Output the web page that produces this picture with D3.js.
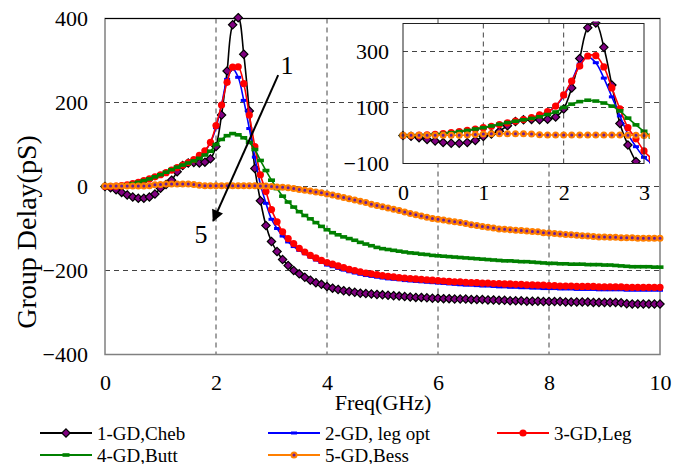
<!DOCTYPE html>
<html><head><meta charset="utf-8">
<script src="https://cdn.jsdelivr.net/npm/d3@7"></script>
<style>
body{margin:0;background:#fff}
text{font-family:"Liberation Serif","Times New Roman",serif;fill:#000}
</style>
</head><body><svg id="c" width="684" height="464"></svg>
<script>
const freq = [0,0.1,0.2,0.3,0.4,0.5,0.6,0.7,0.8,0.9,1,1.1,1.2,1.3,1.4,1.5,1.6,1.7,1.8,1.9,2,2.1,2.2,2.3,2.4,2.5,2.6,2.7,2.8,2.9,3,3.1,3.2,3.3,3.4,3.5,3.6,3.7,3.8,3.9,4,4.1,4.2,4.3,4.4,4.5,4.6,4.7,4.8,4.9,5,5.1,5.2,5.3,5.4,5.5,5.6,5.7,5.8,5.9,6,6.1,6.2,6.3,6.4,6.5,6.6,6.7,6.8,6.9,7,7.1,7.2,7.3,7.4,7.5,7.6,7.7,7.8,7.9,8,8.1,8.2,8.3,8.4,8.5,8.6,8.7,8.8,8.9,9,9.1,9.2,9.3,9.4,9.5,9.6,9.7,9.8,9.9,10];

const gdCheb = [0,-3,-8,-14,-20,-25,-28,-28,-25,-18,
 -4,5,15,35,50,56,57,56,58,66,
 95,170,275,385,402,315,180,43,-34,-93,
 -131,-155,-174,-188,-200,-208,-216,-223,-229,-233,
 -238,-242,-245,-248,-250,-252,-254,-255,-256,-257,
 -258,-259,-260,-261,-262,-263,-264,-264,-265,-266,
 -266,-267,-267,-268,-268,-268,-269,-269,-269,-270,
 -270,-271,-271,-272,-272,-272,-273,-273,-273,-274,
 -274,-274,-274,-275,-275,-275,-275,-275,-276,-276,
 -276,-276,-276,-277,-279,-280,-280,-280,-280,-280,-280];

const gdLegOpt = [0,0,1,2,4,6,9,13,17,22,
 27,32,38,43,49,55,62,72,84,105,
 140,195,255,280,260,205,138,70,5,-40,
 -78,-100,-118,-132,-143,-152,-160,-168,-175,-181,
 -187,-191,-195,-199,-203,-206,-209,-212,-214,-216,
 -218,-220,-221,-222,-224,-225,-226,-227,-228,-229,
 -230,-231,-232,-233,-234,-235,-235,-236,-237,-237,
 -238,-239,-239,-240,-240,-241,-241,-242,-242,-243,
 -243,-243,-244,-244,-244,-245,-245,-245,-245,-246,
 -246,-246,-246,-246,-247,-247,-247,-247,-247,-247,-247];

const gdLeg = [0,0,1,2,4,7,10,14,18,23,
 28,33,39,45,51,57,64,74,85,105,
 145,194,248,284,285,245,170,95,28,-12,
 -55,-84,-108,-124,-136,-147,-156,-164,-170,-176,
 -181,-185,-189,-193,-197,-200,-203,-206,-208,-210,
 -212,-214,-215,-217,-218,-219,-220,-221,-222,-223,
 -224,-225,-226,-227,-227,-228,-229,-229,-230,-230,
 -231,-231,-232,-232,-233,-233,-234,-234,-235,-235,
 -236,-236,-237,-237,-237,-238,-238,-238,-238,-239,
 -239,-239,-239,-239,-240,-240,-240,-240,-240,-240,-240];

const gdButt = [0,0,1,2,4,7,10,14,18,23,
 28,34,40,46,51,56,61,67,75,84,
 100,112,121,126,123,116,105,88,62,38,
 15,-5,-23,-37,-49,-60,-69,-77,-86,-95,
 -103,-110,-115,-120,-124,-128,-133,-137,-141,-145,
 -148,-150,-152,-154,-156,-158,-159,-161,-162,-164,
 -165,-166,-167,-168,-169,-170,-171,-172,-173,-174,
 -175,-176,-177,-177,-178,-179,-179,-180,-181,-182,
 -183,-183,-184,-184,-185,-185,-185,-186,-186,-186,
 -187,-187,-188,-189,-190,-191,-191,-191,-191,-192,-192];

const gdBess = [1,1,1,1,1,1,1,1,2,4,
 5,6,6,6,6,6,5,3,2,2,
 2,2,2,2,2,2,2,2,1,1,
 0,-1,-2,-3,-5,-7,-9,-11,-13,-15,
 -18,-20,-23,-26,-29,-32,-35,-38,-42,-45,
 -48,-51,-54,-57,-61,-64,-67,-70,-73,-76,
 -78,-80,-82,-84,-86,-88,-91,-93,-95,-97,
 -99,-101,-102,-103,-104,-105,-106,-107,-108,-110,
 -111,-112,-113,-114,-115,-116,-117,-118,-119,-120,
 -120,-121,-121,-122,-122,-122,-123,-123,-123,-123,-123];

const seriesNames = ["1-GD,Cheb","2-GD, leg opt","3-GD,Leg","4-GD,Butt","5-GD,Bess"];
const seriesColors = ["#000000","#0000FF","#FF0000","#008000","#FF7F00"];
const seriesMarkers = ["diamond","dash","circle","bar","ring"];
const seriesValues = [gdCheb, gdLegOpt, gdLeg, gdButt, gdBess];

const mainXTicks = [0,2,4,6,8,10];
const mainYTicks = [-400,-200,0,200,400];
const mainXGrid = [2,4,6,8];
const mainYGrid = [-200,0,200];
const insetXTicks = [0,1,2,3];
const insetYTicks = [-100,100,300];
const insetXGrid = [1,2];
const insetYGrid = [100,300];

const svg = d3.select('#c');
const FS = 22;
const SERIF = "Liberation Serif";

const x = d3.scaleLinear().domain([0,10]).range([105,660]);
const y = d3.scaleLinear().domain([-400,400]).range([354.5,18.5]);

function drawMarkers(g, pts, type, color, xs, ys) {
  const sel = g.selectAll(null).data(pts).enter();
  if (type === "diamond") {
    sel.append("path").attr("d", d3.symbol(d3.symbolDiamond2, 44)())
      .attr("transform", d => `translate(${xs(d[0])},${ys(d[1])})`)
      .attr("fill", "#800080").attr("stroke", "#000").attr("stroke-width", 1.2);
  } else if (type === "dash") {
    sel.append("rect").attr("x", d => xs(d[0]) - 3).attr("y", d => ys(d[1]) - 1.5)
      .attr("width", 6).attr("height", 3).attr("fill", color);
  } else if (type === "circle") {
    sel.append("circle").attr("cx", d => xs(d[0])).attr("cy", d => ys(d[1]))
      .attr("r", 3.6).attr("fill", color);
  } else if (type === "bar") {
    sel.append("rect").attr("x", d => xs(d[0]) - 3.5).attr("y", d => ys(d[1]) - 1.8)
      .attr("width", 7).attr("height", 3.6).attr("fill", color);
  } else if (type === "ring") {
    sel.append("circle").attr("cx", d => xs(d[0])).attr("cy", d => ys(d[1]))
      .attr("r", 2.5).attr("fill", "#6A1B9A").attr("stroke", color).attr("stroke-width", 2);
  }
}

function drawSeries(g, xs, ys, maxF) {
  seriesValues.forEach((vals, i) => {
    const pts = freq.map((f, j) => [f, vals[j]]).filter(d => d[0] <= maxF + 1e-9);
    const line = d3.line().x(d => xs(d[0])).y(d => ys(d[1])).curve(d3.curveCatmullRom.alpha(0.5));
    g.append("path").attr("d", line(pts)).attr("fill", "none")
      .attr("stroke", seriesColors[i]).attr("stroke-width", 1.6);
    drawMarkers(g, pts, seriesMarkers[i], seriesColors[i], xs, ys);
  });
}

// ---- main chart ----
const gridStroke = "#444";
svg.append("g").selectAll("line").data(mainXGrid).enter().append("line")
  .attr("x1", d => x(d)).attr("x2", d => x(d)).attr("y1", y(400)).attr("y2", y(-400))
  .attr("stroke", gridStroke).attr("stroke-dasharray", "5,4").attr("stroke-width", 1);
svg.append("g").selectAll("line").data(mainYGrid).enter().append("line")
  .attr("x1", x(0)).attr("x2", x(10)).attr("y1", d => y(d)).attr("y2", d => y(d))
  .attr("stroke", gridStroke).attr("stroke-dasharray", "5,4").attr("stroke-width", 1);

svg.append("rect").attr("x", x(0)).attr("y", y(400)).attr("width", x(10) - x(0)).attr("height", y(-400) - y(400))
  .attr("fill", "none").attr("stroke", "#808080").attr("stroke-width", 1.5);
svg.append("line").attr("x1", x(0)).attr("x2", x(10)).attr("y1", y(400)).attr("y2", y(400))
  .attr("stroke", "#000").attr("stroke-width", 1.2);

svg.append("defs").append("clipPath").attr("id", "mainClip").append("rect")
  .attr("x", x(0) - 6).attr("y", y(400) - 6).attr("width", x(10) - x(0) + 12).attr("height", y(-400) - y(400) + 12);
const mainG = svg.append("g").attr("clip-path", "url(#mainClip)");
drawSeries(mainG, x, y, 10);

function styleAxisText(ax) {
  ax.attr("font-family", SERIF);
  ax.select(".domain").remove();
  ax.selectAll("text").attr("font-size", FS).attr("font-family", SERIF).attr("fill", "#000");
}
const xAxis = svg.append("g").attr("transform", `translate(0,${y(-400)})`)
  .call(d3.axisBottom(x).tickValues(mainXTicks).tickSize(0).tickPadding(20).tickFormat(d3.format("d")));
styleAxisText(xAxis);
const yAxis = svg.append("g").attr("transform", `translate(${x(0)},0)`)
  .call(d3.axisLeft(y).tickValues(mainYTicks).tickSize(0).tickPadding(17).tickFormat(d3.format("d")));
styleAxisText(yAxis);

svg.append("text").attr("x", 383).attr("y", 410).attr("text-anchor", "middle").attr("font-size", FS)
  .attr("font-family", SERIF).text("Freq(GHz)");
svg.append("text").attr("transform", "translate(36,232) rotate(-90)").attr("text-anchor", "middle").attr("font-size", 28)
  .attr("font-family", SERIF).text("Group Delay(pS)");

// arrow annotation (in data coords)
const arrowFrom = [3.12, 265], arrowTo = [1.95, -82];
svg.append("defs").append("marker").attr("id", "ah").attr("viewBox", "0 0 10 10").attr("refX", 9).attr("refY", 5)
  .attr("markerWidth", 7).attr("markerHeight", 6).attr("orient", "auto").attr("markerUnits", "strokeWidth")
  .append("path").attr("d", "M0,0 L10,5 L0,10 z").attr("fill", "#000");
svg.append("line").attr("x1", x(arrowFrom[0])).attr("y1", y(arrowFrom[1]))
  .attr("x2", x(arrowTo[0])).attr("y2", y(arrowTo[1]))
  .attr("stroke", "#000").attr("stroke-width", 2).attr("marker-end", "url(#ah)");
svg.append("text").attr("x", x(3.28)).attr("y", y(290) + 9).attr("text-anchor", "middle").attr("font-size", 26)
  .attr("font-family", SERIF).text("1");
svg.append("text").attr("x", x(1.73)).attr("y", y(-112) + 9).attr("text-anchor", "middle").attr("font-size", 26)
  .attr("font-family", SERIF).text("5");

// ---- inset ----
const xi = d3.scaleLinear().domain([0,3]).range([403,644]);
const yi = d3.scaleLinear().domain([-100,400]).range([163.5,23.5]);
svg.append("rect").attr("x", xi(0)).attr("y", yi(400)).attr("width", xi(3) - xi(0)).attr("height", yi(-100) - yi(400))
  .attr("fill", "#fff");
svg.append("g").selectAll("line").data(insetXGrid).enter().append("line")
  .attr("x1", d => xi(d)).attr("x2", d => xi(d)).attr("y1", yi(400)).attr("y2", yi(-100))
  .attr("stroke", gridStroke).attr("stroke-dasharray", "5,4");
svg.append("g").selectAll("line").data(insetYGrid).enter().append("line")
  .attr("x1", xi(0)).attr("x2", xi(3)).attr("y1", d => yi(d)).attr("y2", d => yi(d))
  .attr("stroke", gridStroke).attr("stroke-dasharray", "5,4");
svg.append("defs").append("clipPath").attr("id", "insClip").append("rect")
  .attr("x", xi(0) - 5).attr("y", yi(400) - 2).attr("width", xi(3) - xi(0) + 11).attr("height", yi(-100) - yi(400) + 2);
const insG = svg.append("g").attr("clip-path", "url(#insClip)");
drawSeries(insG, xi, yi, 3.1);
svg.append("rect").attr("x", xi(0)).attr("y", yi(400)).attr("width", xi(3) - xi(0)).attr("height", yi(-100) - yi(400))
  .attr("fill", "none").attr("stroke", "#222").attr("stroke-width", 1);

const xiAxis = svg.append("g").attr("transform", `translate(0,${yi(-100)})`)
  .call(d3.axisBottom(xi).tickValues(insetXTicks).tickSize(0).tickPadding(21).tickFormat(d3.format("d")));
styleAxisText(xiAxis);
const yiAxis = svg.append("g").attr("transform", `translate(${xi(0)},0)`)
  .call(d3.axisLeft(yi).tickValues(insetYTicks).tickSize(0).tickPadding(14).tickFormat(d3.format("d")));
styleAxisText(yiAxis);

// ---- legend ----
const legPos = [[40,433],[268,433],[497,433],[40,455],[268,455]];
seriesNames.forEach((name, i) => {
  const [lx, ly] = legPos[i];
  const g = svg.append("g");
  g.append("line").attr("x1", lx).attr("x2", lx + 52).attr("y1", ly).attr("y2", ly)
    .attr("stroke", seriesColors[i]).attr("stroke-width", 1.8);
  const mx = d3.scaleLinear().domain([0,1]).range([lx + 26, lx + 27]);
  const my = d3.scaleLinear().domain([0,1]).range([ly, ly + 1]);
  drawMarkers(g, [[0,0]], seriesMarkers[i], seriesColors[i], mx, my);
  g.append("text").attr("x", lx + 57).attr("y", ly + 6.5).attr("font-size", 19).attr("font-family", SERIF).text(name);
});
</script></body></html>
